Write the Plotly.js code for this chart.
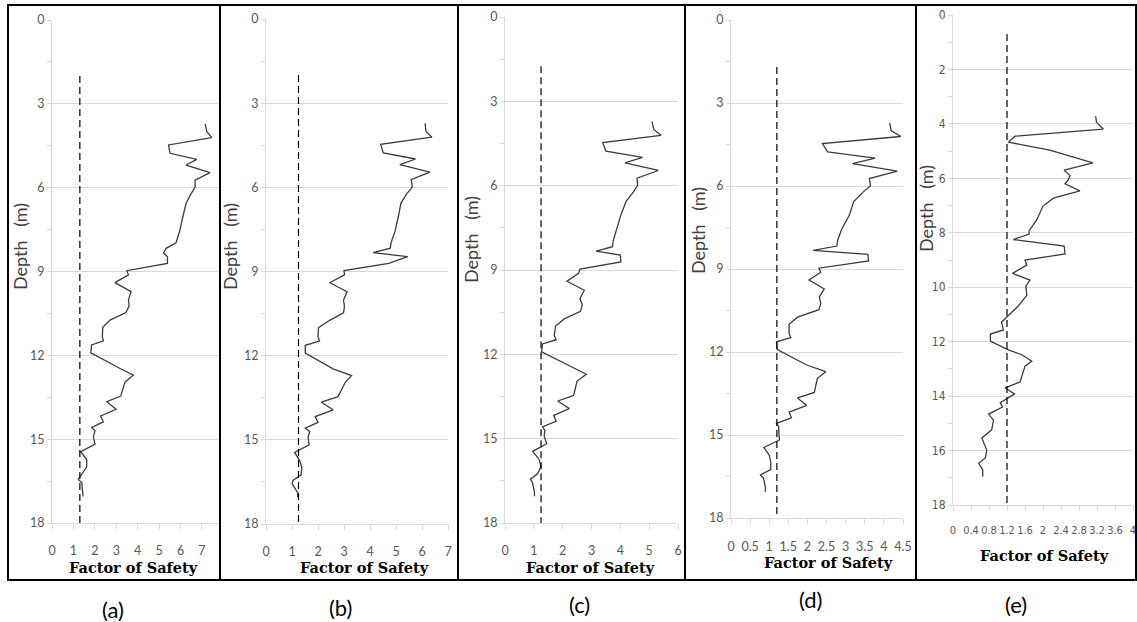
<!DOCTYPE html>
<html>
<head>
<meta charset="utf-8">
<script src="https://cdn.plot.ly/plotly-3.0.1.min.js"></script>
<style>
  html, body { margin: 0; padding: 0; background: #ffffff; }
  #chart { width: 1137px; height: 622px; }
</style>
</head>
<body>
<div id="chart"></div>
<script>
// Depth samples (m) shared by profiles (a)-(d)
const depth = [3.72, 4.0, 4.21, 4.47, 4.77, 4.99, 5.19, 5.46, 5.73, 5.99,
  6.23, 6.56, 7.04, 7.58, 7.97, 8.17, 8.33, 8.47, 8.71, 8.97,
  9.12, 9.40, 9.72, 10.02, 10.24, 10.47, 10.74, 11.0, 11.33, 11.48,
  11.63, 11.91, 12.47, 12.71, 12.95, 13.46, 13.66, 13.93, 14.17, 14.38,
  14.58, 14.70, 14.91, 15.18, 15.45, 15.73, 15.99, 16.25, 16.44, 16.56,
  16.88, 17.05];

// Factor of safety profiles
const fsA = [7.15, 7.23, 7.46, 5.44, 5.51, 6.76, 6.26, 7.38, 6.68, 6.68,
  6.48, 6.26, 6.11, 5.95, 5.79, 5.33, 5.21, 5.39, 5.39, 3.49,
  3.57, 2.94, 3.69, 3.57, 3.60, 3.45, 2.71, 2.37, 2.35, 2.40,
  1.85, 1.81, 3.18, 3.80, 3.41, 3.21, 2.56, 2.99, 2.27, 2.40,
  1.85, 2.01, 1.93, 2.01, 1.34, 1.62, 1.62, 1.39, 1.23, 1.39,
  1.43, 1.45];
const fsB = [6.12, 6.15, 6.38, 4.41, 4.51, 5.75, 5.15, 6.30, 5.58, 5.63,
  5.41, 5.19, 5.09, 4.96, 4.81, 4.78, 4.12, 5.45, 4.72, 3.00,
  3.02, 2.45, 3.12, 2.98, 3.02, 2.98, 2.45, 2.02, 2.00, 2.06,
  1.51, 1.51, 2.58, 3.29, 3.05, 2.77, 2.13, 2.58, 1.89, 2.00,
  1.51, 1.68, 1.62, 1.66, 1.10, 1.29, 1.38, 1.35, 1.05, 1.00,
  1.22, 1.22];
const fsC = [5.10, 5.16, 5.41, 3.39, 3.50, 4.77, 4.16, 5.32, 4.58, 4.60,
  4.45, 4.20, 4.02, 3.85, 3.75, 3.73, 3.16, 4.00, 4.02, 2.60,
  2.55, 2.15, 2.75, 2.60, 2.68, 2.62, 2.05, 1.75, 1.71, 1.77,
  1.30, 1.27, 2.35, 2.82, 2.50, 2.38, 1.83, 2.23, 1.69, 1.77,
  1.30, 1.38, 1.36, 1.45, 0.96, 1.18, 1.25, 1.13, 0.88, 0.95,
  1.02, 1.02];
const fsD = [4.15, 4.19, 4.44, 2.39, 2.53, 3.77, 3.18, 4.35, 3.62, 3.65,
  3.45, 3.21, 3.10, 2.89, 2.79, 2.77, 2.15, 3.58, 3.60, 2.30,
  2.35, 2.04, 2.44, 2.31, 2.35, 2.30, 1.74, 1.52, 1.52, 1.56,
  1.19, 1.21, 1.98, 2.48, 2.26, 2.18, 1.74, 1.98, 1.52, 1.58,
  1.19, 1.25, 1.25, 1.27, 0.86, 1.00, 1.04, 1.04, 0.77, 0.85,
  0.90, 0.90];

// Profile (e) has its own depth samples
const depthE = [3.72, 3.94, 4.19, 4.45, 4.67, 4.96, 5.43, 5.70, 5.90, 6.06,
  6.20, 6.46, 6.73, 7.02, 7.53, 7.93, 8.05, 8.25, 8.49, 8.78,
  9.00, 9.19, 9.49, 9.74, 9.96, 10.30, 10.69, 11.10, 11.28, 11.57,
  11.72, 11.98, 12.30, 12.48, 12.72, 12.90, 13.48, 13.70, 13.92, 14.24,
  14.40, 14.66, 14.88, 15.24, 15.54, 15.98, 16.27, 16.46, 16.71, 16.95];
const fsE = [3.17, 3.19, 3.34, 1.38, 1.23, 2.15, 3.11, 2.47, 2.60, 2.56,
  2.49, 2.82, 2.23, 2.00, 1.86, 1.69, 1.69, 1.34, 2.47, 2.49,
  1.60, 1.64, 1.32, 1.71, 1.62, 1.64, 1.45, 1.20, 1.08, 1.12,
  0.83, 0.83, 1.23, 1.53, 1.75, 1.60, 1.49, 1.16, 1.37, 1.05,
  1.10, 0.79, 0.90, 0.86, 0.64, 0.75, 0.72, 0.57, 0.66, 0.66];

// Required factor of safety (dashed reference) and the depth it starts at
const limitFS = [1.3, 1.25, 1.25, 1.2, 1.2];
const limitTop = [2.0, 2.0, 1.75, 1.7, 0.7];
const depthMax = 18;

// Axis scales and labels
const xMax = [7.75, 7, 6, 4.5, 4];
const xStep = [1, 1, 1, 0.5, 0.4];
const yStep = [3, 3, 3, 3, 2];
const yMinorStep = [1.5, 1.5, 1.5, 1.5, 1];
const panelLabels = ['(a)', '(b)', '(c)', '(d)', '(e)'];
const xTitleText = 'Factor of Safety';
const yTitleText = 'Depth\u2002 (m)';

const profilesX = [fsA, fsB, fsC, fsD, fsE];
const profilesY = [depth, depth, depth, depth, depthE];

// ---- page geometry (pixels) ----
const W = 1137, H = 622;
const fx = v => v / W;
const fy = v => 1 - v / H;

const plots = [
  { l: 52,  r: 218,  t: 20, b: 523, stand: 11, xt: 133, xty: 567, yt: 20,  yty: 247, lx: 113, ly: 609 },
  { l: 266, r: 448,  t: 19, b: 524, stand: 11, xt: 365, xty: 567, yt: 230, yty: 247, lx: 340, ly: 607 },
  { l: 505, r: 678,  t: 17, b: 523, stand: 11, xt: 590, xty: 567, yt: 471, yty: 240, lx: 579, ly: 604 },
  { l: 731, r: 903,  t: 20, b: 518, stand: 12, xt: 828, xty: 562, yt: 698, yty: 231, lx: 810, ly: 599 },
  { l: 953, r: 1133, t: 15, b: 505, stand: 10, xt: 1044, xty: 555, yt: 926, yty: 209, lx: 1016, ly: 604 }
];

const grey = '#d9d9d9';
const tickGrey = '#595959';
const sans = 'Lato';
const narrow = 'DejaVu Sans Condensed';
const serif = 'DejaVu Serif';

const data = [];
const layout = {
  width: W, height: H,
  margin: { l: 0, r: 0, t: 0, b: 0 },
  paper_bgcolor: '#ffffff',
  plot_bgcolor: '#ffffff',
  showlegend: false,
  annotations: [],
  shapes: []
};

plots.forEach((p, i) => {
  const n = i + 1;
  const xa = 'x' + (n === 1 ? '' : n);
  const ya = 'y' + (n === 1 ? '' : n);
  const tickFamily = i === 4 ? narrow : sans;
  const xTickSize = i === 4 ? 11 : 12.5;
  const yTickSize = i === 4 ? 12 : 12.5;

  data.push({
    x: profilesX[i], y: profilesY[i],
    xaxis: xa, yaxis: ya,
    type: 'scatter', mode: 'lines',
    line: { color: '#3c3c3c', width: 1.3 },
    hoverinfo: 'skip'
  });
  data.push({
    x: [limitFS[i], limitFS[i]], y: [limitTop[i], depthMax],
    xaxis: xa, yaxis: ya,
    type: 'scatter', mode: 'lines',
    line: { color: '#000000', width: 1.2, dash: '7px,4px' },
    hoverinfo: 'skip'
  });

  layout['xaxis' + (n === 1 ? '' : n)] = {
    domain: [fx(p.l), fx(p.r)],
    anchor: ya,
    range: [0, xMax[i]],
    dtick: xStep[i], tick0: 0,
    tickangle: 0,
    showgrid: false, zeroline: false,
    showline: true, linecolor: grey, linewidth: 1,
    ticks: 'outside', ticklen: 5, tickcolor: grey, tickwidth: 1,
    ticklabelstandoff: p.stand,
    tickfont: { family: tickFamily, size: xTickSize, color: tickGrey },
    fixedrange: true
  };
  layout['yaxis' + (n === 1 ? '' : n)] = {
    domain: [fy(p.b), fy(p.t)],
    anchor: xa,
    range: [depthMax, 0],
    dtick: yStep[i], tick0: 0,
    showgrid: true, gridcolor: grey, gridwidth: 1,
    zeroline: false,
    showline: true, linecolor: grey, linewidth: 1,
    ticks: 'outside', ticklen: 4, tickcolor: grey, tickwidth: 1,
    minor: { dtick: yMinorStep[i], tick0: 0, ticks: 'outside', ticklen: 4, tickcolor: grey, showgrid: false },
    tickfont: { family: tickFamily, size: yTickSize, color: tickGrey },
    fixedrange: true
  };

  layout.annotations.push({
    xref: 'paper', yref: 'paper', x: fx(p.xt), y: fy(p.xty),
    xanchor: 'center', yanchor: 'middle', showarrow: false,
    text: '<b>' + xTitleText + '</b>',
    font: { family: serif, size: 14.5, color: '#000000' }
  });
  layout.annotations.push({
    xref: 'paper', yref: 'paper', x: fx(p.yt), y: fy(p.yty),
    xanchor: 'center', yanchor: 'middle', showarrow: false,
    textangle: -90,
    text: yTitleText,
    font: { family: sans, size: 18, color: '#404040' }
  });
  layout.annotations.push({
    xref: 'paper', yref: 'paper', x: fx(p.lx), y: fy(p.ly),
    xanchor: 'center', yanchor: 'middle', showarrow: false,
    text: panelLabels[i],
    font: { family: sans, size: 22, color: '#000000' }
  });
});

// Panel frames: outer box plus vertical dividers
const frameLeft = 8, frameRight = 1136, frameTop = 5, frameBottom = 580;
const dividers = [220, 458, 685, 916];
layout.shapes.push({
  type: 'rect', xref: 'paper', yref: 'paper', layer: 'above',
  x0: fx(frameLeft), x1: fx(frameRight), y0: fy(frameBottom), y1: fy(frameTop),
  line: { color: '#000000', width: 2 }
});
dividers.forEach(d => {
  layout.shapes.push({
    type: 'line', xref: 'paper', yref: 'paper', layer: 'above',
    x0: fx(d), x1: fx(d), y0: fy(frameBottom), y1: fy(frameTop),
    line: { color: '#000000', width: 2 }
  });
});

Plotly.newPlot('chart', data, layout, { displayModeBar: false, staticPlot: true });
</script>
</body>
</html>
